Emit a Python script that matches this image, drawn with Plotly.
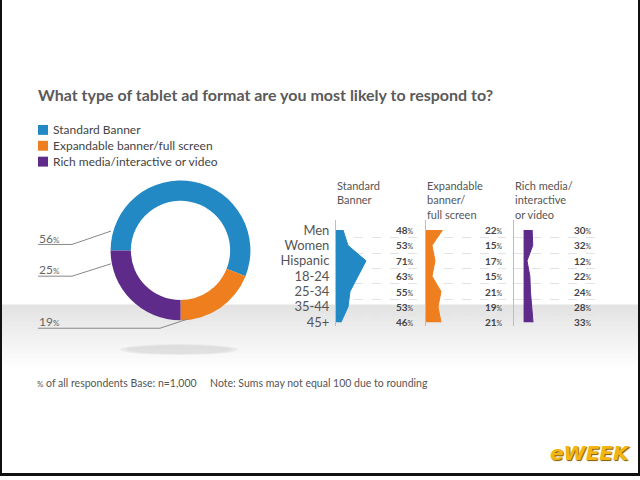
import plotly.graph_objects as go

# ---------------- data ----------------
formats = ["Standard Banner", "Expandable banner/full screen", "Rich media/interactive or video"]
overall = [56, 19, 25]
colors = ["#2389c4", "#ef7f1e", "#5e2b8a"]

groups = ["Men", "Women", "Hispanic", "18-24", "25-34", "35-44", "45+"]
standard = [48, 53, 71, 63, 55, 53, 46]
expandable = [22, 15, 17, 15, 21, 19, 21]
rich = [30, 32, 12, 22, 24, 28, 33]

headers = [["Standard", "Banner"],
           ["Expandable", "banner/", "full screen"],
           ["Rich media/", "interactive", "or video"]]

title = "What type of tablet ad format are you most likely to respond to?"
note = "<span style='font-size:8px'>%</span> of all respondents Base: n=1,000 &nbsp; &nbsp; Note: Sums may not equal 100 due to rounding"
brand = "eWEEK"

W, H = 640, 480
FONT = "Lato"


def px(x):
    return x / W


def py(y):
    return 1 - y / H


fig = go.Figure()
shapes = []
annotations = []

# ---------------- background band with fade ----------------
n_strips = 14
for i in range(n_strips):
    shapes.append(dict(type="rect", xref="paper", yref="paper", layer="below",
                       x0=0, x1=1, y0=py(307), y1=py(307 + 4.5 * (i + 1)),
                       fillcolor="rgba(0,0,0,0.0075)", line=dict(width=0)))
# shadow under donut
shapes.append(dict(type="circle", xref="paper", yref="paper", layer="below",
                   x0=px(120), x1=px(238), y0=py(358), y1=py(347),
                   fillcolor="rgba(0,0,0,0.05)", line=dict(width=0)))
shapes.append(dict(type="circle", xref="paper", yref="paper", layer="below",
                   x0=px(126), x1=px(232), y0=py(357), y1=py(348),
                   fillcolor="rgba(0,0,0,0.04)", line=dict(width=0)))

# frame (left, right, bottom)
for (x0, x1, y0, y1) in [(0, 2, 0, 480), (638, 640, 0, 480), (0, 640, 477, 480)]:
    shapes.append(dict(type="rect", xref="paper", yref="paper", layer="above",
                       x0=px(x0), x1=px(x1), y0=py(y1), y1=py(y0),
                       fillcolor="#111", line=dict(width=0)))

# ---------------- donut ----------------
fig.add_trace(go.Pie(
    labels=formats, values=overall, sort=False, direction="clockwise",
    rotation=270, hole=0.71, textinfo="none", hoverinfo="label+percent",
    marker=dict(colors=colors, line=dict(width=0)),
    domain=dict(x=[px(110), px(251)], y=[py(323), py(182)]),
    showlegend=False,
))

# legend (drawn manually for the tight spacing of the original)
legend_y = [131, 147, 163]
for name, col, ly in zip(formats, colors, legend_y):
    shapes.append(dict(type="rect", xref="paper", yref="paper",
                       x0=px(38), x1=px(48), y0=py(ly + 5), y1=py(ly - 5),
                       fillcolor=col, line=dict(width=0)))
    annotations.append(dict(x=px(51), y=py(ly), xref="paper", yref="paper",
                            xanchor="left", yanchor="middle", showarrow=False,
                            text=name, font=dict(family=FONT, size=12, color="#444")))

# donut labels + leader lines
label_pos = {  # index into overall: (text y, line y, line x end, target x, target y)
    0: (240, 246.5, 72, 111, 233),
    2: (272, 278.5, 72, 111, 266),
    1: (324, 331, 160, 187, 322),
}
for idx, (ty, ly, lx, tx, tyy) in label_pos.items():
    annotations.append(dict(x=px(37), y=py(ty), xref="paper", yref="paper",
                            xanchor="left", yanchor="middle", showarrow=False,
                            text=f"{overall[idx]}<span style='font-size:8px'>%</span>",
                            font=dict(family=FONT, size=12, color="#666")))
    shapes.append(dict(type="line", xref="paper", yref="paper",
                       x0=px(38), x1=px(lx), y0=py(ly), y1=py(ly),
                       line=dict(color="#888", width=1)))
    shapes.append(dict(type="line", xref="paper", yref="paper",
                       x0=px(lx), x1=px(tx), y0=py(ly), y1=py(tyy),
                       line=dict(color="#888", width=1)))

# ---------------- small area charts ----------------
rows = list(range(len(groups)))
half_rows = [r + 0.5 for r in rows[:-1]]
panels = [
    (standard, colors[0], 336, 417, [41, 122]),
    (expandable, colors[1], 426, 506, [11, 64.3]),
    (rich, colors[2], 514, 595, [-33.5, 249.7]),
]
yrange = [6.26, -0.645]
ydomain = [py(329), py(222)]

for i, (series, col, x0, x1, xr) in enumerate(panels, start=1):
    xa = "x" if i == 1 else f"x{i}"
    ya = "y" if i == 1 else f"y{i}"
    fig.add_trace(go.Scatter(
        x=series, y=rows, mode="lines", fill="tozerox",
        line=dict(color=col, width=1), fillcolor=col,
        xaxis=xa, yaxis=ya, showlegend=False, hoverinfo="x+y"))
    xkey = "xaxis" if i == 1 else f"xaxis{i}"
    ykey = "yaxis" if i == 1 else f"yaxis{i}"
    fig.layout[xkey] = dict(domain=[px(x0), px(x1)], range=xr, visible=False,
                            anchor=ya, fixedrange=True)
    fig.layout[ykey] = dict(
        domain=ydomain, range=yrange, anchor=xa,
        showline=True, linecolor="#bdbdbd", linewidth=1,
        showgrid=False, zeroline=False, ticks="",
        tickvals=rows, ticktext=groups, showticklabels=(i == 1),
        ticklabelstandoff=3,
        tickfont=dict(family=FONT, size=13, color="#555"),
        minor=dict(tickmode="array", tickvals=half_rows, showgrid=True,
                   gridcolor="#e2e2e2", griddash="dash", gridwidth=1, ticks=""),
        fixedrange=True,
    )
    for r, v in zip(rows, series):
        annotations.append(dict(
            x=1, xref=f"{xa} domain", y=r, yref=ya, xanchor="right", yanchor="middle",
            xshift=-1, showarrow=False,
            text=f"<b>{v}</b><span style='font-size:7px'>%</span>",
            font=dict(family=FONT, size=10, color="#444")))
    annotations.append(dict(
        x=px(x0 - 1), y=py(178), xref="paper", yref="paper",
        xanchor="left", yanchor="top", align="left", showarrow=False,
        text="<br>".join(headers[i - 1]),
        font=dict(family=FONT, size=11, color="#555")))

# ---------------- text ----------------
annotations.append(dict(x=px(36), y=py(95), xref="paper", yref="paper",
                        xanchor="left", yanchor="middle", showarrow=False,
                        text=f"<b>{title}</b>",
                        font=dict(family=FONT, size=16, color="#5a5a5a", weight=900)))
annotations.append(dict(x=px(35), y=py(386), xref="paper", yref="paper",
                        xanchor="left", yanchor="middle", showarrow=False,
                        text=note, font=dict(family=FONT, size=10.5, color="#555")))
annotations.append(dict(x=px(632), y=py(457), xref="paper", yref="paper",
                        xanchor="right", yanchor="middle", showarrow=False,
                        text=f"<b><i>{brand}</i></b>",
                        font=dict(family="DejaVu Sans", size=20, color="#f3b512",
                                  shadow="1px 1px 1px #7a5a00")))

fig.update_layout(
    width=W, height=H, margin=dict(l=0, r=0, t=0, b=0),
    paper_bgcolor="white", plot_bgcolor="rgba(0,0,0,0)",
    shapes=shapes, annotations=annotations,
    showlegend=False,
    hovermode="closest",
)

fig.write_html("out.html")
